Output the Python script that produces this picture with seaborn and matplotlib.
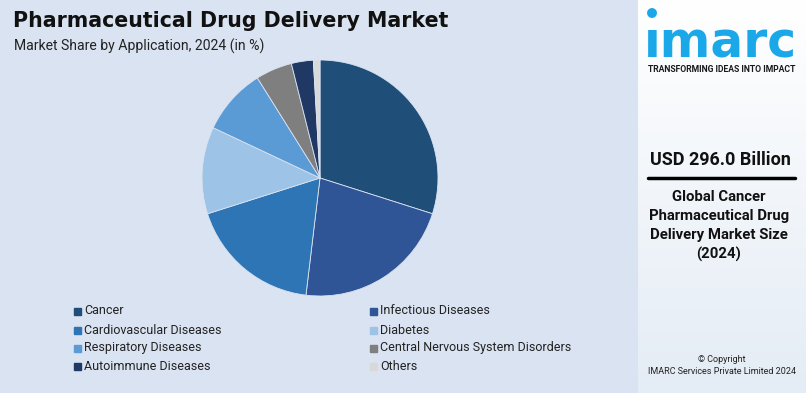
import matplotlib.pyplot as plt
import numpy as np
import seaborn as sns
from matplotlib.patches import Ellipse, Rectangle

# data
APPLICATIONS = [
    'Cancer', 'Infectious Diseases', 'Cardiovascular Diseases', 'Diabetes',
    'Respiratory Diseases', 'Central Nervous System Disorders',
    'Autoimmune Diseases', 'Others',
]
SHARES = [29.9, 22.0, 18.2, 11.9, 9.1, 5.0, 3.0, 0.9]
COLORS = ['#1f4e79', '#2f5597', '#2e75b6', '#9dc3e6',
          '#5b9bd5', '#7f7f7f', '#203864', '#d9d9d9']

TITLE = 'Pharmaceutical Drug Delivery Market'
SUBTITLE = 'Market Share by Application, 2024 (in %)'
VALUE_TEXT = 'USD 296.0 Billion'
VALUE_CAPTION = 'Global Cancer\nPharmaceutical Drug\nDelivery Market Size\n(2024)'

W, H = 806, 393
BG = '#dae3f1'

sns.set_theme(style='white')
plt.rcParams['font.family'] = ['Roboto', 'DejaVu Sans']


def px(x, y):
    """pixel coords (top-left origin) -> figure fraction"""
    return x / W, 1 - y / H


def main() -> None:
    fig = plt.figure(figsize=(W / 100, H / 100), dpi=100, facecolor=BG)

    # right panel background
    pan = fig.add_axes([638 / W, 0, 1 - 638 / W, 1])
    grad = np.linspace(0, 1, 200).reshape(-1, 1)
    pan.imshow(grad, aspect='auto', cmap=sns.blend_palette(
        ['#ffffff', '#e4ecf5'], as_cmap=True), extent=[0, 1, 0, 1])
    pan.set_xlim(0, 1)
    pan.set_ylim(0, 1)
    pan.axis('off')

    # pie
    cx, cy, r = 320, 178, 118
    ax = fig.add_axes([(cx - r) / W, (H - cy - r) / H, 2 * r / W, 2 * r / H])
    ax.pie(
        SHARES, colors=COLORS, startangle=90, counterclock=False,
        wedgeprops=dict(edgecolor='#dae3f1', linewidth=0.6),
    )
    ax.set_xlim(-1, 1)
    ax.set_ylim(-1, 1)
    ax.set_aspect('equal')
    ax.axis('off')

    # legend, two columns
    col_x = [74, 370]
    row_y = [311, 330, 348, 366]
    for i, (name, col) in enumerate(zip(APPLICATIONS, COLORS)):
        x = col_x[i % 2]
        y = row_y[i // 2]
        fx, fy = px(x, y + 3.5)
        fig.patches.append(Rectangle((fx, fy), 7 / W, 7 / H, color=col,
                                     transform=fig.transFigure))
        fig.text(*px(x + 10, y), name, fontsize=9, color='#222222',
                 va='center', ha='left')

    # titles
    fig.text(*px(13, 21), TITLE, fontsize=14.8, fontweight='bold',
             color='#111111', va='center', ha='left',
             family=['DejaVu Sans'])
    fig.text(*px(14, 46), SUBTITLE, fontsize=10.1, color='#222222',
             va='center', ha='left')

    # logo
    fig.text(*px(720, 57), 'ımarc', fontsize=35, fontweight='bold',
             color='#1ba8e8', va='baseline', ha='center',
             family=['DejaVu Sans'])
    fig.patches.append(Ellipse(px(652, 13), 8.5 / W, 8.5 / H,
                               color='#1ba8e8', transform=fig.transFigure))
    fig.text(*px(722, 70), 'TRANSFORMING IDEAS INTO IMPACT', fontsize=6.2,
             fontweight='bold', color='#1a1a1a', va='center', ha='center')

    # value block
    fig.text(*px(720, 160), VALUE_TEXT, fontsize=13, fontweight='bold',
             color='#111111', va='center', ha='center')
    fig.lines.append(plt.Line2D([648 / W, 795 / W], [1 - 178 / H] * 2,
                                color='black', linewidth=2.5,
                                transform=fig.transFigure))
    fig.text(*px(719, 226), VALUE_CAPTION, fontsize=10.7, fontweight='bold',
             color='#111111', va='center', ha='center', linespacing=1.45)

    fig.text(*px(722, 359), '© Copyright', fontsize=6.5, color='#222222',
             va='center', ha='center')
    fig.text(*px(722, 371), 'IMARC Services Private Limited 2024',
             fontsize=6.5, color='#222222', va='center', ha='center')

    fig.savefig('out.png', dpi=100, facecolor=BG)


if __name__ == '__main__':
    main()
